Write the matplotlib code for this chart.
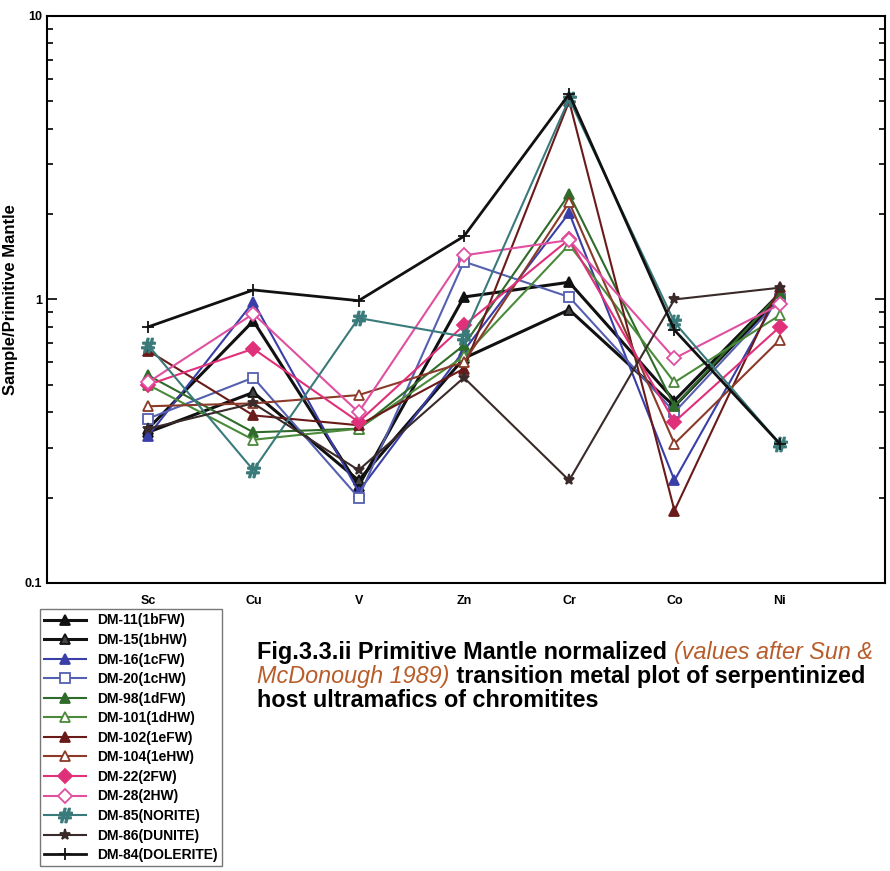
import numpy as np
import matplotlib
matplotlib.use("Agg")
import matplotlib.pyplot as plt
from matplotlib.ticker import LogLocator, NullFormatter, FixedFormatter, FixedLocator

plt.rcParams['font.family'] = ['Liberation Sans', 'DejaVu Sans']

elements = ["Sc", "Cu", "V", "Zn", "Cr", "Co", "Ni"]

# sample / primitive mantle
dm11 = [0.35, 0.84, 0.22, 1.02, 1.15, 0.44, 1.05]
dm15 = [0.34, 0.47, 0.23, 0.62, 0.92, 0.42, 1.02]
dm16 = [0.33, 0.98, 0.21, 0.66, 2.02, 0.23, 1.05]
dm20 = [0.38, 0.53, 0.20, 1.36, 1.02, 0.40, 1.00]
dm98 = [0.54, 0.34, 0.35, 0.69, 2.35, 0.42, 1.05]
dm101 = [0.50, 0.32, 0.35, 0.63, 1.56, 0.51, 0.88]
dm102 = [0.66, 0.39, 0.36, 0.57, 5.00, 0.18, 1.11]
dm104 = [0.42, 0.43, 0.46, 0.60, 2.20, 0.31, 0.72]
dm22 = [0.50, 0.67, 0.37, 0.81, 1.63, 0.37, 0.80]
dm28 = [0.51, 0.89, 0.40, 1.43, 1.62, 0.62, 0.96]
dm85 = [0.69, 0.25, 0.86, 0.74, 5.10, 0.83, 0.31]
dm86 = [0.35, 0.43, 0.25, 0.53, 0.23, 1.00, 1.10]
dm84 = [0.80, 1.08, 0.99, 1.67, 5.30, 0.78, 0.31]

series = [
    ("DM-11(1bFW)", dm11, "#111111", "^", "#111111", 2.2),
    ("DM-15(1bHW)", dm15, "#111111", "^", "#444444", 2.2),
    ("DM-16(1cFW)", dm16, "#3a3fa8", "^", "#3a3fa8", 1.5),
    ("DM-20(1cHW)", dm20, "#5560b0", "s", "white", 1.5),
    ("DM-98(1dFW)", dm98, "#2f6b2a", "^", "#2f6b2a", 1.5),
    ("DM-101(1dHW)", dm101, "#4a8a3a", "^", "white", 1.5),
    ("DM-102(1eFW)", dm102, "#6b1a1a", "^", "#6b1a1a", 1.5),
    ("DM-104(1eHW)", dm104, "#8b3a2a", "^", "white", 1.5),
    ("DM-22(2FW)", dm22, "#e0307a", "D", "#e0307a", 1.5),
    ("DM-28(2HW)", dm28, "#e050a0", "D", "white", 1.5),
    ("DM-85(NORITE)", dm85, "#3a7a7a", r"$\#$", "#3a7a7a", 1.5),
    ("DM-86(DUNITE)", dm86, "#3a2a2a", "*", "#3a2a2a", 1.5),
    ("DM-84(DOLERITE)", dm84, "#111111", "+", "#111111", 2.0),
]

fig = plt.figure(figsize=(8.9, 8.71), dpi=100)
ax = fig.add_axes([0.0528, 0.3307, 0.9416, 0.651])

x = np.arange(len(elements))
handles = []
for name, vals, col, mk, fc, lw in series:
    ms = 7 if mk not in ("*", "+") else 8
    if mk == r"$\#$":
        ms = 10
    h, = ax.plot(x, vals, color=col, lw=lw, marker=mk, ms=ms,
                 mfc=fc, mec=col, mew=1.3, label=name)
    handles.append(h)

ax.set_yscale("log")
ax.set_ylim(0.1, 10)
ax.set_xlim(-0.96, 7.0)
ax.set_xticks(x)
ax.set_xticklabels(elements, fontsize=9, fontweight="bold")
ax.tick_params(axis="x", length=0, pad=9)

ax.yaxis.set_major_locator(FixedLocator([0.1, 1, 10]))
ax.yaxis.set_major_formatter(FixedFormatter(["0.1", "1", "10"]))
ax.yaxis.set_minor_locator(LogLocator(base=10, subs=np.arange(2, 10)))
ax.yaxis.set_minor_formatter(NullFormatter())
ax.tick_params(axis="y", which="both", direction="in", right=True,
               labelsize=9, width=1.2)
ax.tick_params(axis="y", which="major", length=7)
ax.tick_params(axis="y", which="minor", length=4)
for lab in ax.get_yticklabels():
    lab.set_fontweight("bold")
for sp in ax.spines.values():
    sp.set_linewidth(1.5)

ax.set_ylabel("Sample/Primitive Mantle", fontsize=12, fontweight="bold")
ax.yaxis.set_label_coords(-0.035, 0.5)

leg = fig.legend(handles=handles, loc="upper left", bbox_to_anchor=(0.045, 0.3005),
                 prop={"weight": "bold", "size": 10},
                 frameon=True, fancybox=False, edgecolor="#555555",
                 handlelength=3.0, labelspacing=0.4, borderpad=0.3,
                 borderaxespad=0)
leg.get_frame().set_linewidth(1.0)

cap_size = 16.8
t1 = fig.text(0.289, 0.2434, "Fig.3.3.ii Primitive Mantle normalized ", fontsize=cap_size,
              fontweight="bold", va="baseline")
ax.annotate("(values after Sun &", xy=(1, 0), xycoords=t1, va="bottom", fontsize=cap_size,
            style="italic", color="#b85c2a", annotation_clip=False)
t2 = fig.text(0.289, 0.2158, "McDonough 1989)", fontsize=cap_size, style="italic",
              color="#b85c2a", va="baseline")
ax.annotate(" transition metal plot of serpentinized", xy=(1, 0), xycoords=t2,
            va="bottom", fontsize=cap_size, fontweight="bold", annotation_clip=False)
fig.text(0.289, 0.1883, "host ultramafics of chromitites", fontsize=cap_size,
         fontweight="bold", va="baseline")

fig.savefig("out.png", dpi=100)
